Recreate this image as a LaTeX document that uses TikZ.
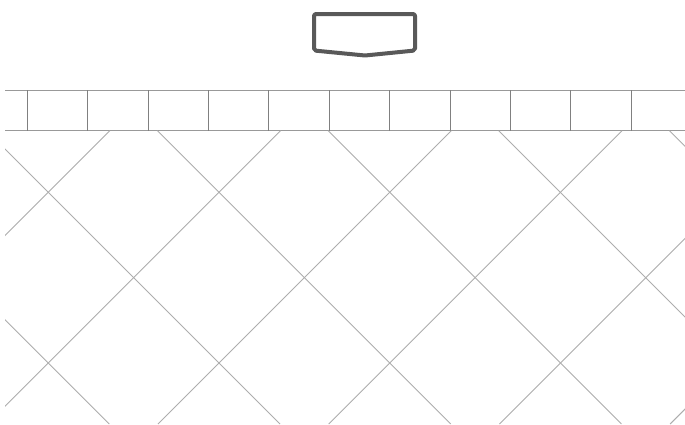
\documentclass[tikz,border=0pt]{standalone}
\begin{document}
\begin{tikzpicture}[x=1pt,y=-1pt,
  boxline/.style={line width=4pt, color=black!65, rounded corners=2pt, line join=round},
  bandh/.style={line width=1pt, color=black!40},
  bandv/.style={line width=1pt, color=black!50},
  diag/.style={line width=0.9pt, color=black!32}]
\useasboundingbox[fill=white] (0,0) rectangle (685,424);
% top pentagon box
\draw[boxline] (314,14) -- (415,14) -- (415,50.5) -- (365,55.5) -- (314,50.5) -- cycle;
% band
\draw[bandh] (5,90) -- (685,90);
\draw[bandh] (5,130.7) -- (685,130.7);
\foreach \k in {0,...,10}
  \draw[bandv] ({27.3+60.4*\k},90) -- ({27.3+60.4*\k},130.7);
% diagonal lattice
\begin{scope}
\clip (5,130.7) rectangle (685,424);
\foreach \k in {0,...,5}
  \draw[diag] ({240.6+170.7*\k-130.7},130.7) -- ({240.6+170.7*\k-424},424);
\foreach \k in {-2,...,3}
  \draw[diag] ({26.7+170.7*\k+130.7},130.7) -- ({26.7+170.7*\k+424},424);
\end{scope}
\end{tikzpicture}
\end{document}
